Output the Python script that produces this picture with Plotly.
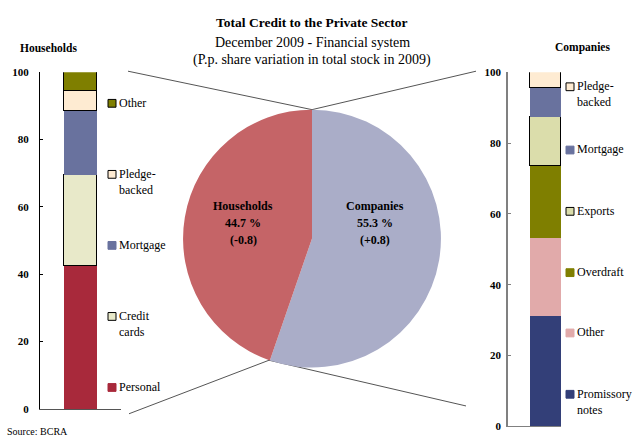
import plotly.graph_objects as go

# ---------------- data ----------------
hh_categories = ["Personal", "Credit cards", "Mortgage", "Pledge-backed", "Other"]
hh_values = [42.3, 27.1, 19.0, 5.9, 5.7]
hh_colors = ["#A8293B", "#E8E9C9", "#69729E", "#FEEBD2", "#7F7F00"]
hh_outline = [False, True, False, True, True]

co_categories = ["Promissory notes", "Other", "Overdraft", "Exports", "Mortgage", "Pledge-backed"]
co_values = [31.0, 22.0, 20.4, 14.0, 8.2, 4.4]
co_colors = ["#333F78", "#E1AAAA", "#7F7F00", "#DBDDAB", "#69729E", "#FEEBD2"]
co_outline = [False, False, False, True, False, True]

# pie drawn clockwise from 12 o'clock: Companies first (right), Households (left)
pie_labels = ["Companies", "Households"]
pie_shares = [55.3, 44.7]
pie_changes = [0.8, -0.8]
pie_colors = ["#AAADC8", "#C56467"]

y_ticks = [0, 20, 40, 60, 80, 100]

# legend item labels (top to bottom as shown)
hh_legend = [("Other", "Other"), ("Pledge-backed", "Pledge-<br>backed"), ("Mortgage", "Mortgage"),
             ("Credit cards", "Credit<br>cards"), ("Personal", "Personal")]
co_legend = [("Pledge-backed", "Pledge-<br>backed"), ("Mortgage", "Mortgage"), ("Exports", "Exports"),
             ("Overdraft", "Overdraft"), ("Other", "Other"), ("Promissory notes", "Promissory<br>notes")]

W, H = 634, 447
FONT = "Liberation Serif"


def px(x):
    return x / W


def py(y):
    return 1 - y / H


fig = go.Figure()

for cat, val, col, ol in zip(hh_categories, hh_values, hh_colors, hh_outline):
    fig.add_trace(go.Bar(x=[0], y=[val], name=cat, marker_color=col, width=0.82,
                         marker_line=dict(color="black", width=1 if ol else 0),
                         xaxis="x", yaxis="y", showlegend=False, hoverinfo="name+y"))

for cat, val, col, ol in zip(co_categories, co_values, co_colors, co_outline):
    fig.add_trace(go.Bar(x=[0], y=[val], name=cat, marker_color=col, width=1.0,
                         marker_line=dict(color="black", width=1 if ol else 0),
                         xaxis="x2", yaxis="y2", showlegend=False, hoverinfo="name+y"))

fig.add_trace(go.Pie(labels=pie_labels, values=pie_shares, sort=False, direction="clockwise",
                     rotation=0, marker=dict(colors=pie_colors, line=dict(width=0)),
                     textinfo="none", showlegend=False,
                     domain=dict(x=[px(179.5), px(444.5)], y=[py(371.5), py(106.5)])))

axis_font = dict(family=FONT, size=11, color="black", weight="bold")

fig.update_layout(
    width=W, height=H, margin=dict(l=0, r=0, t=0, b=0),
    paper_bgcolor="white", plot_bgcolor="white", barmode="stack", bargap=0,
    xaxis=dict(domain=[px(40), px(121)], range=[-1.0, 1.0], showticklabels=False, ticks="",
               showgrid=False, zeroline=False, showline=True, linecolor="#555555", linewidth=1,
               fixedrange=True),
    yaxis=dict(domain=[py(414), py(68)], range=[0, 100], tickvals=y_ticks, ticks="inside", ticklen=3,
               tickcolor="black", showgrid=False, zeroline=False, showline=True, linecolor="black",
               linewidth=1, tickfont=axis_font, ticklabelstandoff=8, anchor="x"),
    xaxis2=dict(domain=[px(508), px(561)], range=[-1.21, 0.5], showticklabels=False, ticks="",
                showgrid=False, zeroline=False, showline=True, linecolor="#808080", linewidth=1,
                anchor="y2"),
    yaxis2=dict(domain=[py(432), py(68)], range=[0, 100], tickvals=y_ticks, ticks="inside", ticklen=3,
                tickcolor="#808080", showgrid=False, zeroline=False, showline=True, linecolor="#808080",
                linewidth=1.5, tickfont=axis_font, ticklabelstandoff=3, anchor="x2"),
)

shapes = []
annotations = []

# connector lines
for (x0, y0, x1, y1) in [(128, 67, 312, 106.5), (129, 419, 269, 364),
                         (312, 106.5, 476, 67), (269, 364, 466, 411)]:
    shapes.append(dict(type="line", xref="paper", yref="paper", x0=px(x0), y0=py(y0),
                       x1=px(x1), y1=py(y1), line=dict(color="#555555", width=1), layer="below"))

# legends next to bars
def add_legend(items, cats, colors, outlines, mx, tx, ys):
    for (cat, label), yc in zip(items, ys):
        i = cats.index(cat)
        shapes.append(dict(type="rect", xref="paper", yref="paper",
                           x0=px(mx), x1=px(mx + 8), y0=py(yc + 4), y1=py(yc - 4),
                           fillcolor=colors[i],
                           line=dict(color="black" if outlines[i] else colors[i], width=1)))
        annotations.append(dict(text=label, xref="paper", yref="paper", x=px(tx), y=py(yc - 10),
                                xanchor="left", yanchor="top", showarrow=False, align="left",
                                font=dict(family=FONT, size=12, color="black")))


add_legend(hh_legend, hh_categories, hh_colors, hh_outline, 108, 117, [100, 173, 246, 319, 392])
add_legend(co_legend, co_categories, co_colors, co_outline, 566, 575, [83, 148, 211, 274, 336, 399])

# pie labels
for name, share, chg, cx in zip(pie_labels, pie_shares, pie_changes, [375, 243]):
    for txt, yy in zip([name, f"{share:.1f} %", f"({chg:+.1f})"], [206, 223, 240]):
        annotations.append(dict(text=txt, xref="paper", yref="paper", x=px(cx), y=py(yy),
                                xanchor="center", yanchor="middle", showarrow=False,
                                font=dict(family=FONT, size=12, color="black", weight="bold")))

# titles
annotations.append(dict(text="Total Credit to the Private Sector", xref="paper", yref="paper",
                        x=px(312), y=py(17), xanchor="center", yanchor="middle", showarrow=False,
                        font=dict(family=FONT, size=13.5, color="black", weight="bold")))
annotations.append(dict(text="December 2009 - Financial system", xref="paper", yref="paper",
                        x=px(312), y=py(37), xanchor="center", yanchor="middle", showarrow=False,
                        font=dict(family=FONT, size=14, color="black")))
annotations.append(dict(text="(P.p. share variation in total stock in 2009)", xref="paper", yref="paper",
                        x=px(312), y=py(56), xanchor="center", yanchor="middle", showarrow=False,
                        font=dict(family=FONT, size=14, color="black")))
annotations.append(dict(text="Households", xref="paper", yref="paper", x=px(48), y=py(43),
                        xanchor="center", yanchor="middle", showarrow=False,
                        font=dict(family=FONT, size=11.5, color="black", weight="bold")))
annotations.append(dict(text="Companies", xref="paper", yref="paper", x=px(582), y=py(43),
                        xanchor="center", yanchor="middle", showarrow=False,
                        font=dict(family=FONT, size=11.5, color="black", weight="bold")))
annotations.append(dict(text="Source: BCRA", xref="paper", yref="paper", x=px(5), y=py(437),
                        xanchor="left", yanchor="middle", showarrow=False,
                        font=dict(family=FONT, size=10, color="black")))

fig.update_layout(shapes=shapes, annotations=annotations)
fig.write_html("out.html")
